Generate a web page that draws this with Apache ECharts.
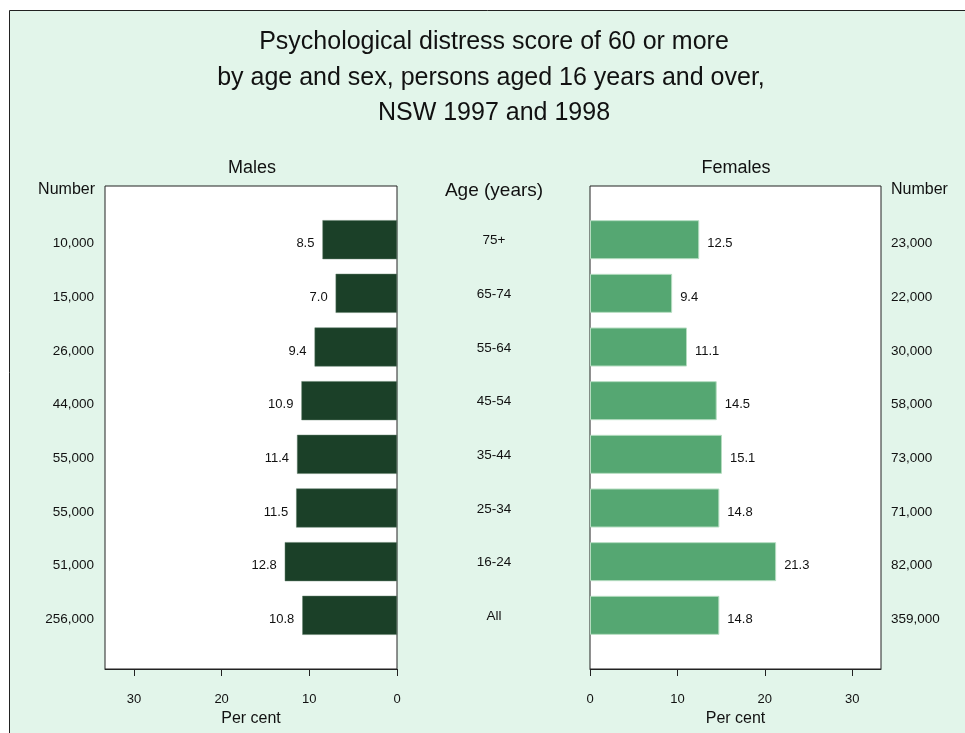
<!DOCTYPE html>
<html>
<head>
<meta charset="utf-8">
<script src="https://cdn.jsdelivr.net/npm/echarts@6/dist/echarts.min.js"></script>
<style>
  html, body { margin: 0; padding: 0; background: #fff; }
  #chart { width: 965px; height: 733px; }
</style>
</head>
<body>
<div id="chart"></div>
<script>
// age groups, top to bottom
var ageGroups = ['75+', '65-74', '55-64', '45-54', '35-44', '25-34', '16-24', 'All']
var maleNumbers = ['10,000', '15,000', '26,000', '44,000', '55,000', '55,000', '51,000', '256,000']
var femaleNumbers = ['23,000', '22,000', '30,000', '58,000', '73,000', '71,000', '82,000', '359,000']
var malePct = [8.5, 7.0, 9.4, 10.9, 11.4, 11.5, 12.8, 10.8]
var femalePct = [12.5, 9.4, 11.1, 14.5, 15.1, 14.8, 21.3, 14.8]
var pctTicks = [0, 10, 20, 30]

var FONT = "'Liberation Sans', Arial, sans-serif"
var TXT = '#111'

// blank slot above and below so bars sit on the ticks
function pad(arr, blank) {
    return [blank].concat(arr, [blank])
}

var chart = echarts.init(document.getElementById('chart'))

function valueAxis(grid, inverse) {
    return {
        type: 'value',
        gridIndex: grid,
        inverse: inverse,
        min: 0,
        max: 33.3,
        name: 'Per cent',
        nameLocation: 'middle',
        nameGap: 41,
        nameTextStyle: { fontFamily: FONT, fontSize: 16, color: TXT },
        splitLine: { show: false },
        axisLine: { show: true, lineStyle: { color: '#222', width: 1 } },
        axisTick: { show: true, inside: false, length: 7, customValues: pctTicks, lineStyle: { color: '#222' } },
        axisLabel: { customValues: pctTicks, margin: 24, fontFamily: FONT, fontSize: 13, color: TXT }
    }
}

function catAxis(grid, data, position, margin, align, shift) {
    return {
        type: 'category',
        gridIndex: grid,
        data: data,
        inverse: true,
        boundaryGap: false,
        position: position,
        axisLine: { show: false },
        axisTick: { show: false },
        splitLine: { show: false },
        axisLabel: {
            interval: 0, margin: margin, align: align,
            formatter: function (v) { return v ? '{t|' + v + '}' : '' },
            rich: { t: { padding: [shift, 0, 0, 0], fontFamily: FONT, fontSize: 13.5, color: TXT } }
        }
    }
}

var labelStyle = { fontFamily: FONT, fontSize: 13, color: TXT }

function title(text, x, y, size, align) {
    return {
        type: 'text', x: x, y: y, silent: true,
        style: { text: text, font: size + 'px ' + FONT, fill: TXT, textAlign: align || 'center', textVerticalAlign: 'middle' }
    }
}

chart.setOption({
    backgroundColor: '#fff',
    animation: false,
    graphic: [
        {
            type: 'rect', z: -10, silent: true,
            shape: { x: 9.5, y: 10.5, width: 970, height: 740 },
            style: { fill: '#e2f5ea', stroke: '#222', lineWidth: 1 }
        },
        title('Psychological distress score of 60 or more', 494, 42, 25),
        title('by age and sex, persons aged 16 years and over,', 491, 78, 25),
        title('NSW 1997 and 1998', 494, 113, 25),
        title('Males', 252, 168, 18),
        title('Females', 736, 168, 18),
        title('Age (years)', 494, 191, 19),
        title('Number', 95, 190, 16, 'right'),
        title('Number', 891, 190, 16, 'left')
    ],
    grid: [
        { left: 105, top: 186, width: 292, height: 483, outerBoundsMode: 'none', show: true, backgroundColor: '#fff', borderColor: '#222', borderWidth: 1 },
        { left: 590, top: 186, width: 291, height: 483, outerBoundsMode: 'none', show: true, backgroundColor: '#fff', borderColor: '#222', borderWidth: 1 }
    ],
    xAxis: [valueAxis(0, true), valueAxis(1, false)],
    yAxis: [
        catAxis(0, pad(maleNumbers, ''), 'left', 11, 'right', 8),
        catAxis(1, pad(ageGroups, ''), 'left', 96, 'center', 2),
        catAxis(1, pad(femaleNumbers, ''), 'right', 10, 'left', 8)
    ],
    series: [
        {
            type: 'bar', name: 'Males', xAxisIndex: 0, yAxisIndex: 0,
            data: pad(malePct, null),
            barWidth: 39,
            itemStyle: { color: '#1b4028', borderColor: '#5f7d68', borderWidth: 0.5 },
            label: {
                show: true, position: 'left', distance: 8, offset: [0, 4],
                formatter: function (p) { return p.value.toFixed(1) },
                ...labelStyle
            }
        },
        {
            type: 'bar', name: 'Females', xAxisIndex: 1, yAxisIndex: 1,
            data: pad(femalePct, null),
            barWidth: 39,
            itemStyle: { color: '#55a772', borderColor: '#b5dcc0', borderWidth: 1 },
            label: {
                show: true, position: 'right', distance: 8, offset: [0, 4],
                formatter: function (p) { return p.value.toFixed(1) },
                ...labelStyle
            }
        }
    ]
})
</script>
</body>
</html>
